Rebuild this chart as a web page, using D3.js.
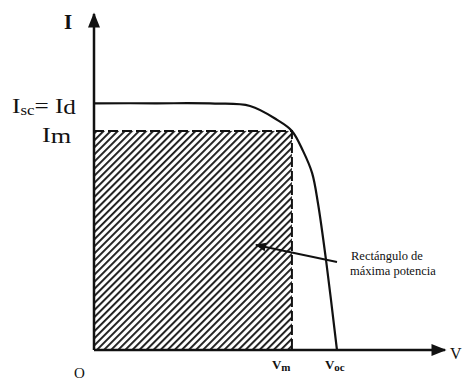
<!DOCTYPE html>
<html>
<head>
<title>Curva I-V</title>
<script src="https://d3js.org/d3.v7.min.js"></script>
<style>
    body { margin: 0; background: #fff; }
    text { font-family: "Liberation Serif", "DejaVu Serif", serif; fill: #111; }
</style>
</head>
<body>
<div id="chart"></div>
<script>
// curve (V and I in % of Voc / Isc)
const curveV = [0, 25, 49.7, 64.1, 75.2, 81.3, 85.9, 89.6, 92, 95.3, 99.8];
const curveI = [100, 100, 99.9, 98.9, 93.3, 88.8, 80.6, 71.7, 59.5, 36.5, 0];
const Vm = 81.3, Voc = 99.8;
const Im = 88.8, Isc = 100;

const width = 463, height = 381;
const svg = d3.select("#chart").append("svg")
    .attr("width", width).attr("height", height);

const x = d3.scaleLinear().domain([0, 145]).range([94, 447]);
const y = d3.scaleLinear().domain([0, 137]).range([350, 12]);

// hatch pattern
const defs = svg.append("defs");
const sp = 5;
const pat = defs.append("pattern")
    .attr("id", "hatch")
    .attr("patternUnits", "userSpaceOnUse")
    .attr("width", sp).attr("height", sp)
    .attr("patternTransform", "rotate(45)");
pat.append("rect").attr("width", 1.9).attr("height", sp).attr("fill", "#1a1a1a");

defs.append("marker")
    .attr("id", "head")
    .attr("viewBox", "0 0 10 10")
    .attr("refX", 9).attr("refY", 5)
    .attr("markerWidth", 7).attr("markerHeight", 6)
    .attr("orient", "auto")
  .append("path")
    .attr("d", "M0,1 L10,5 L0,9 Z")
    .attr("fill", "#111");

// max power rectangle
svg.append("rect")
    .attr("x", x(0)).attr("y", y(Im))
    .attr("width", x(Vm) - x(0)).attr("height", y(0) - y(Im))
    .attr("fill", "url(#hatch)");

svg.append("path")
    .attr("d", `M${x(0)},${y(Im)} H${x(Vm)} V${y(0)}`)
    .attr("fill", "none")
    .attr("stroke", "#111").attr("stroke-width", 2)
    .attr("stroke-dasharray", "10,4");

// I-V curve
const line = d3.line()
    .x((d, i) => x(curveV[i]))
    .y((d, i) => y(curveI[i]))
    .curve(d3.curveCatmullRom.alpha(0.5));
svg.append("path")
    .attr("d", line(curveV))
    .attr("fill", "none")
    .attr("stroke", "#111").attr("stroke-width", 2.2);

// axes
svg.append("line")
    .attr("x1", x(0)).attr("y1", y(0)).attr("x2", x(0)).attr("y2", y(137) + 2)
    .attr("stroke", "#111").attr("stroke-width", 2.5)
    .attr("marker-end", "url(#head)");
svg.append("line")
    .attr("x1", x(0)).attr("y1", y(0)).attr("x2", x(145) - 2).attr("y2", y(0))
    .attr("stroke", "#111").attr("stroke-width", 2.5)
    .attr("marker-end", "url(#head)");

// labels
svg.append("text").attr("x", 64).attr("y", 29)
    .attr("font-size", 21).attr("font-weight", "bold").text("I");
svg.append("text").attr("x", 450).attr("y", 359)
    .attr("font-size", 16).text("V");
svg.append("text").attr("x", 74).attr("y", 378)
    .attr("font-size", 15).text("O");

const isc = svg.append("text")
    .attr("transform", `translate(12,${y(Isc) + 10}) scale(1.2,1)`)
    .attr("font-size", 21);
isc.append("tspan").text("I");
isc.append("tspan").attr("font-size", 14).attr("dy", 2).text("sc");
isc.append("tspan").attr("dy", -2).text("= I");
isc.append("tspan").attr("dy", 1).text("d");

const im = svg.append("text")
    .attr("transform", `translate(42,${y(Im) + 11}) scale(1.25,1)`)
    .attr("font-size", 21);
im.append("tspan").text("I");
im.append("tspan").attr("dy", 1).text("m");

const vm = svg.append("text").attr("x", x(Vm) - 20).attr("y", 369)
    .attr("font-family", "Liberation Sans, Arial, sans-serif")
    .attr("font-size", 13).attr("font-weight", "bold");
vm.append("tspan").text("V");
vm.append("tspan").attr("font-size", 11).attr("dy", 2).text("m");

const voc = svg.append("text").attr("x", x(Voc) - 12).attr("y", 369)
    .attr("font-family", "Liberation Sans, Arial, sans-serif")
    .attr("font-size", 13).attr("font-weight", "bold");
voc.append("tspan").text("V");
voc.append("tspan").attr("font-size", 11).attr("dy", 2).text("oc");

// annotation
svg.append("line")
    .attr("x1", 337).attr("y1", 262).attr("x2", 256).attr("y2", 245)
    .attr("stroke", "#111").attr("stroke-width", 1.8)
    .attr("marker-end", "url(#head)");
svg.append("text").attr("x", 351).attr("y", 260)
    .attr("font-size", 12.5).text("Rectángulo de");
svg.append("text").attr("x", 350).attr("y", 275)
    .attr("font-size", 12.5).text("máxima potencia");
</script>
</body>
</html>
